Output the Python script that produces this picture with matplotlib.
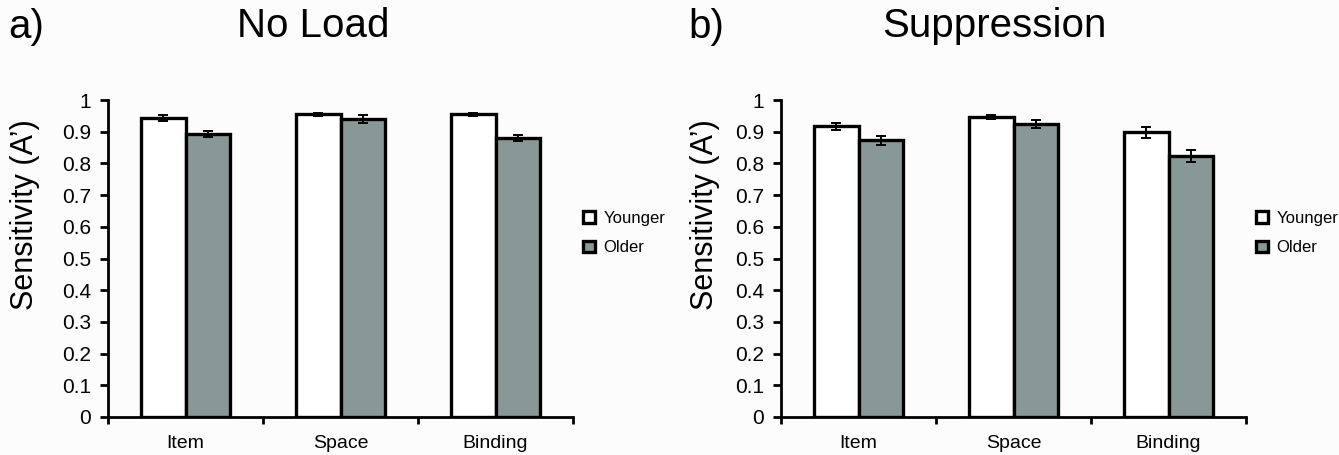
import matplotlib
matplotlib.use("Agg")
import matplotlib.pyplot as plt
import numpy as np

plt.rcParams['font.family'] = ['Liberation Sans', 'DejaVu Sans']

categories = ['Item', 'Space', 'Binding']
groups = ['Younger', 'Older']

noload_younger = [0.943, 0.955, 0.955]
noload_older = [0.893, 0.940, 0.880]
noload_younger_err = [0.009, 0.005, 0.005]
noload_older_err = [0.010, 0.012, 0.010]

supp_younger = [0.917, 0.946, 0.898]
supp_older = [0.873, 0.924, 0.824]
supp_younger_err = [0.012, 0.007, 0.017]
supp_older_err = [0.015, 0.013, 0.019]

yticks = [0, 0.1, 0.2, 0.3, 0.4, 0.5, 0.6, 0.7, 0.8, 0.9, 1]
ytick_labels = ['0', '0.1', '0.2', '0.3', '0.4', '0.5', '0.6', '0.7', '0.8', '0.9', '1']

W, H = 1339, 455
fig = plt.figure(figsize=(W / 100, H / 100), dpi=100)
fig.patch.set_facecolor('#fcfcfd')

older_col = '#889896'
bw = 0.285


def panel(left_px, young, old, yerr, oerr):
    ax = fig.add_axes([left_px / W, 1 - 417 / H, 465 / W, 317 / H])
    ax.set_facecolor('none')
    x = np.arange(len(categories))
    ax.bar(x - bw / 2, young, bw, color='white', edgecolor='black', linewidth=2.4,
           yerr=yerr, capsize=3.5, error_kw=dict(elinewidth=1.4, capthick=1.4, ecolor='black'),
           label=groups[0], zorder=2)
    ax.bar(x + bw / 2, old, bw, color=older_col, edgecolor='black', linewidth=2.4,
           yerr=oerr, capsize=3.5, error_kw=dict(elinewidth=1.4, capthick=1.4, ecolor='black'),
           label=groups[1], zorder=2)
    ax.set_xlim(-0.5, len(categories) - 0.5)
    ax.set_ylim(0, 1)
    ax.set_yticks(yticks)
    ax.set_yticklabels(ytick_labels, fontsize=15)
    ax.set_xticks(np.arange(len(categories) + 1) - 0.5)
    ax.set_xticklabels([])
    ax.set_xticks(x, minor=True)
    ax.set_xticklabels(categories, minor=True, fontsize=14)
    ax.tick_params(axis='x', which='minor', length=0, pad=13)
    ax.tick_params(axis='x', which='major', length=5, width=2, direction='out')
    ax.tick_params(axis='y', length=6, width=2, direction='out', pad=6)
    for s in ['top', 'right']:
        ax.spines[s].set_visible(False)
    for s in ['left', 'bottom']:
        ax.spines[s].set_linewidth(2)
    ax.legend(loc='center left', bbox_to_anchor=(0.99, 0.58), frameon=False,
              fontsize=12, handlelength=0.7, handleheight=0.7, handletextpad=0.5,
              labelspacing=0.85)
    return ax


panel(108, noload_younger, noload_older, noload_younger_err, noload_older_err)
panel(781, supp_younger, supp_older, supp_younger_err, supp_older_err)

fig.text(8 / W, 1 - 27 / H, 'a)', fontsize=29, va='center', ha='left')
fig.text(313 / W, 1 - 26 / H, 'No Load', fontsize=29, va='center', ha='center')
fig.text(688 / W, 1 - 27 / H, 'b)', fontsize=29, va='center', ha='left')
fig.text(994 / W, 1 - 26 / H, 'Suppression', fontsize=29, va='center', ha='center')

fig.text(25 / W, 1 - 215 / H, 'Sensitivity (A’)', fontsize=22, rotation=90,
         va='center', ha='center')
fig.text(705 / W, 1 - 215 / H, 'Sensitivity (A’)', fontsize=22, rotation=90,
         va='center', ha='center')

fig.savefig('out.png', dpi=100, facecolor=fig.get_facecolor())
